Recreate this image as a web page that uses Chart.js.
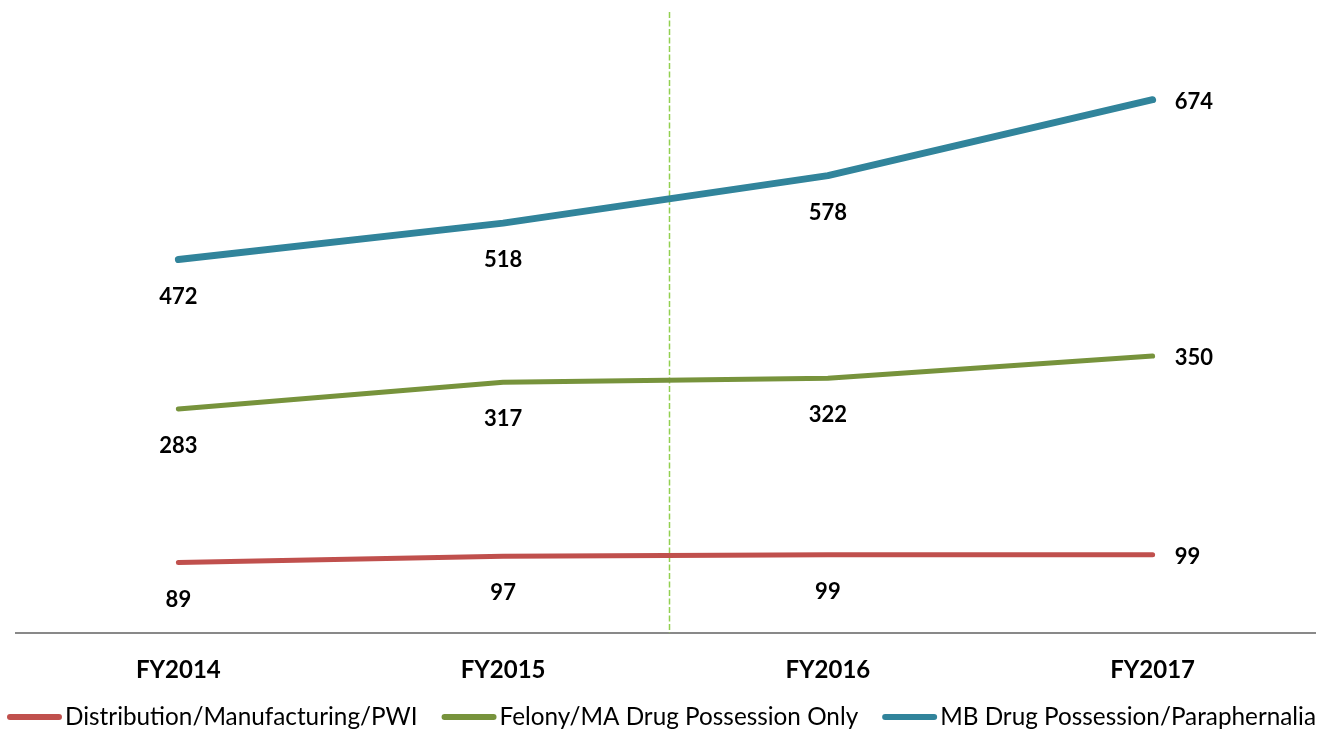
<!DOCTYPE html>
<html>
<head>
<meta charset="utf-8">
<script src="https://cdn.jsdelivr.net/npm/chart.js@4.4.0/dist/chart.umd.min.js"></script>
<style>
  html, body { margin: 0; padding: 0; background: #fff; }
  #wrap { width: 1331px; height: 730px; }
</style>
</head>
<body>
<div id="wrap"><canvas id="drugChart"></canvas></div>
<script>
// --- Data ---
const years = ["FY2014", "FY2015", "FY2016", "FY2017"];
const distribution = [89, 97, 99, 99];
const felonyPossession = [283, 317, 322, 350];
const mbPossession = [472, 518, 578, 674];

const FONT = "Lato, 'Open Sans', sans-serif";

// value labels: under the point, except the last one which sits to the right
const valueLabels = {
  id: "valueLabels",
  afterDatasetsDraw(chart) {
    const ctx = chart.ctx;
    ctx.save();
    ctx.font = "bold 22px " + FONT;
    ctx.fillStyle = "#000";
    ctx.textBaseline = "middle";
    chart.data.datasets.forEach((ds, i) => {
      const meta = chart.getDatasetMeta(i);
      meta.data.forEach((pt, j) => {
        const last = j === meta.data.length - 1;
        if (last) {
          ctx.textAlign = "left";
          ctx.fillText(ds.data[j], pt.x + 22, pt.y + 2);
        } else {
          ctx.textAlign = "center";
          ctx.fillText(ds.data[j], pt.x, pt.y + 37);
        }
      });
    });
    ctx.restore();
  }
};

// dashed divider between FY2015 and FY2016
const divider = {
  id: "divider",
  beforeDatasetsDraw(chart) {
    const x = chart.scales.x;
    const px = (x.getPixelForValue(1) + x.getPixelForValue(2)) / 2 + 4;
    const ctx = chart.ctx;
    ctx.save();
    ctx.strokeStyle = "#92D050";
    ctx.lineWidth = 1.5;
    ctx.setLineDash([6, 2.5]);
    ctx.beginPath();
    ctx.moveTo(px, chart.chartArea.top + 12);
    ctx.lineTo(px, chart.chartArea.bottom);
    ctx.stroke();
    ctx.restore();
  }
};

// legend drawn by hand so the sample/text spacing matches the original
const bottomLegend = {
  id: "bottomLegend",
  afterDraw(chart) {
    const ctx = chart.ctx;
    const sample = 55, gapText = 3, gapItem = 24;
    ctx.save();
    ctx.font = "24.3px " + FONT;
    const items = chart.data.datasets.map(ds => ({
      text: ds.label, color: ds.borderColor, w: ctx.measureText(ds.label).width
    }));
    const total = items.reduce((s, it) => s + sample + gapText + it.w, 0) + gapItem * (items.length - 1);
    let x = (chart.width - total) / 2 - 4;
    const y = 717;
    ctx.textBaseline = "middle";
    ctx.textAlign = "left";
    items.forEach(it => {
      ctx.strokeStyle = it.color;
      ctx.lineWidth = 6;
      ctx.lineCap = "round";
      ctx.beginPath();
      ctx.moveTo(x + 3, y);
      ctx.lineTo(x + sample - 3, y);
      ctx.stroke();
      ctx.fillStyle = "#000";
      ctx.fillText(it.text, x + sample + gapText, y);
      x += sample + gapText + it.w + gapItem;
    });
    ctx.restore();
  }
};

const ctx = document.getElementById("drugChart").getContext("2d");
new Chart(ctx, {
  type: "line",
  data: {
    labels: years,
    datasets: [
      {
        label: "Distribution/Manufacturing/PWI",
        data: distribution,
        borderColor: "#C0504D",
        backgroundColor: "#C0504D",
        borderWidth: 5,
      },
      {
        label: "Felony/MA Drug Possession Only",
        data: felonyPossession,
        borderColor: "#77933C",
        backgroundColor: "#77933C",
        borderWidth: 5,
      },
      {
        label: "MB Drug Possession/Paraphernalia",
        data: mbPossession,
        borderColor: "#31849B",
        backgroundColor: "#31849B",
        borderWidth: 7,
      }
    ]
  },
  options: {
    responsive: true,
    maintainAspectRatio: false,
    animation: false,
    layout: { padding: { top: 0, left: 16, right: 16, bottom: 40 } },
    elements: {
      point: { radius: 0, hoverRadius: 0 },
      line: { tension: 0, borderCapStyle: "round", borderJoinStyle: "round" }
    },
    plugins: {
      tooltip: { enabled: false },
      legend: { display: false }
    },
    scales: {
      x: {
        offset: true,
        grid: { display: false, drawTicks: false },
        border: { display: true, color: "#898989", width: 2 },
        ticks: {
          color: "#000",
          font: { family: FONT, size: 24, weight: "bold" },
          padding: 23,
        },
        afterFit(scale) { scale.height = 57; }
      },
      y: {
        display: false,
        min: 0,
        max: 800,
      }
    }
  },
  plugins: [divider, valueLabels, bottomLegend]
});
</script>
</body>
</html>
